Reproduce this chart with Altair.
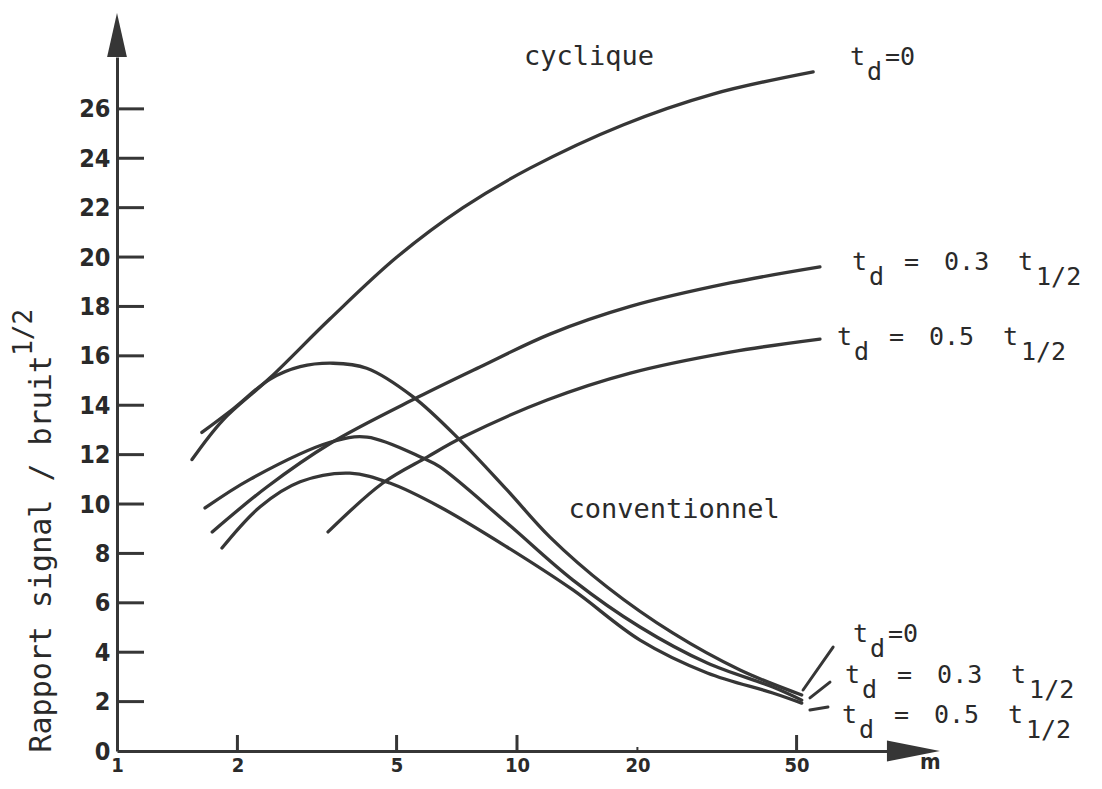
import altair as alt
import pandas as pd

# ---------------- data ----------------
# cyclique curves
cyc0_m = [1.54, 1.84, 2.41, 3.41, 5.01, 7.33, 10.78, 18.4, 30.9, 55.0]
cyc0_v = [11.8, 13.4, 15.1, 17.5, 20.0, 22.0, 23.6, 25.35, 26.6, 27.5]

cyc03_m = [1.73, 2.37, 3.41, 5.66, 8.08, 12.09, 19.2, 34.1, 57.2]
cyc03_v = [8.87, 10.69, 12.45, 14.33, 15.55, 16.88, 18.0, 18.95, 19.6]

cyc05_m = [3.37, 4.62, 5.96, 7.33, 11.89, 19.2, 34.1, 57.2]
cyc05_v = [8.87, 10.85, 11.9, 12.71, 14.21, 15.3, 16.15, 16.68]

# conventionnel curves
conv0_m = [1.63, 1.95, 2.41, 2.87, 3.47, 4.21, 5.5, 7.2, 9.44, 12.09, 16.8, 24.5, 36.1, 51.5]
conv0_v = [12.9, 13.85, 15.05, 15.56, 15.7, 15.5, 14.34, 12.59, 10.57, 8.66, 6.64, 4.78, 3.28, 2.27]

conv03_m = [1.66, 2.15, 3.41, 4.22, 5.82, 6.42, 9.44, 13.8, 20.3, 29.9, 43.6, 51.5]
conv03_v = [9.84, 11.0, 12.5, 12.71, 11.86, 11.5, 9.23, 6.92, 5.02, 3.56, 2.59, 2.06]

conv05_m = [1.83, 2.28, 2.87, 3.82, 4.81, 6.42, 9.44, 13.8, 20.3, 29.9, 43.6, 51.5]
conv05_v = [8.22, 9.89, 10.9, 11.25, 10.85, 9.88, 8.26, 6.52, 4.49, 3.16, 2.35, 1.94]

curve_names = ["cyclique td=0", "cyclique td=0.3", "cyclique td=0.5",
               "conventionnel td=0", "conventionnel td=0.3", "conventionnel td=0.5"]
curve_m = [cyc0_m, cyc03_m, cyc05_m, conv0_m, conv03_m, conv05_m]
curve_v = [cyc0_v, cyc03_v, cyc05_v, conv0_v, conv03_v, conv05_v]

# axes
x_tick_values = [1, 2, 5, 10, 20, 50]
x_major_ticks = [2, 5, 10, 50]
x_minor_ticks = [20]
y_tick_values = [0, 2, 4, 6, 8, 10, 12, 14, 16, 18, 20, 22, 24, 26]
y_marked_ticks = [2, 4, 6, 8, 10, 12, 14, 16, 18, 20, 22, 24, 26]

# annotations (data coordinates)
group_text = ["cyclique", "conventionnel"]
group_m = [15.14, 24.7]
group_v = [27.77, 9.43]

td_m = [68.0, 68.8, 63.1, 69.2, 66.1, 64.9]
td_v = [27.77, 19.47, 16.44, 4.41, 2.75, 1.13]
td_coeff = ["0", "0.3", "0.5", "0", "0.3", "0.5"]

leader_m1 = [51.9, 54.0, 54.0]
leader_v1 = [2.47, 2.15, 1.66]
leader_m2 = [61.7, 60.6, 59.9]
leader_v2 = [4.21, 2.79, 1.78]

# ---------------- build ----------------
rows = []
for name, ms, vs in zip(curve_names, curve_m, curve_v):
    for m, v in zip(ms, vs):
        rows.append({"curve": name, "m": m, "v": v})
curves = pd.DataFrame(rows)

INK = "#363636"
TXT = "#2a2a2a"
MONO = "DejaVu Sans Mono"
NUM = "Liberation Sans Narrow, DejaVu Sans Condensed, Liberation Sans, sans-serif"

xscale = alt.Scale(type="log", domain=[1, 84.14], nice=False)
yscale = alt.Scale(domain=[0, 28.1], nice=False, zero=False)

X = lambda **kw: alt.X("m:Q", scale=xscale, **kw)
Y = lambda **kw: alt.Y("v:Q", scale=yscale, **kw)

x_axis = alt.Axis(values=x_tick_values, format="d", ticks=False, grid=False,
                  domainColor=INK, domainWidth=3, labelFont=NUM, labelFontSize=20,
                  labelFontWeight="bold", labelColor=TXT, labelPadding=4,
                  labelFlush=False, labelOverlap=False, title=None)
y_axis = alt.Axis(values=y_tick_values, format="d", ticks=False, grid=False,
                  domainColor=INK, domainWidth=3, labelFont=NUM, labelFontSize=25,
                  labelFontWeight="bold", labelColor=TXT, labelPadding=7,
                  labelOverlap=False, labelFlush=False,
                  title="Rapport signal / bruit", titleFont=MONO, titleFontSize=30,
                  titleFontWeight="normal", titleColor=TXT, titleAngle=270,
                  titleAlign="left", titleBaseline="alphabetic", titleX=-67, titleY=695)

lines = alt.Chart(curves).mark_line(
    interpolate="catmull-rom", color=INK, strokeWidth=3.3, strokeCap="round"
).encode(x=X(axis=x_axis), y=Y(axis=y_axis), detail="curve:N")

layers = [lines]

# inward axis ticks
ytk = pd.DataFrame({"v": y_marked_ticks})
layers.append(alt.Chart(ytk).mark_rule(color=INK, strokeWidth=3).encode(
    y=Y(), x=alt.value(0), x2=alt.value(27)))
xtk = pd.DataFrame({"m": x_major_ticks})
layers.append(alt.Chart(xtk).mark_rule(color=INK, strokeWidth=3).encode(
    x=X(), y=alt.value(694), y2=alt.value(678)))
xtk2 = pd.DataFrame({"m": x_minor_ticks})
layers.append(alt.Chart(xtk2).mark_rule(color=INK, strokeWidth=2).encode(
    x=X(), y=alt.value(694), y2=alt.value(690)))

# axis arrows
up = pd.DataFrame({"m": [1.0], "v": [28.99]})
layers.append(alt.Chart(up).mark_point(
    shape="M0,-1 L0.45,1 L-0.45,1 Z", filled=True, size=1936, color=INK, opacity=1
).encode(x=X(), y=Y()))
right = pd.DataFrame({"m": [97.96], "v": [0.0]})
layers.append(alt.Chart(right).mark_point(
    shape="M1,0 L-1,-0.4 L-1,0.4 Z", filled=True, size=2809, color=INK, opacity=1
).encode(x=X(), y=Y()))

# x axis name
mlab = pd.DataFrame({"m": [107.9], "v": [-0.72], "t": ["m"]})
layers.append(alt.Chart(mlab).mark_text(
    font=NUM, fontSize=22, fontWeight="bold", color=TXT, align="center", baseline="alphabetic"
).encode(x=X(), y=Y(), text="t:N"))

# y title superscript
sup = pd.DataFrame({"m": [0.613], "v": [16.0], "t": ["1/2"]})
layers.append(alt.Chart(sup).mark_text(
    font=MONO, fontSize=26, color=TXT, angle=270, align="left", baseline="alphabetic"
).encode(x=X(), y=Y(), text="t:N"))

# group labels
grp = pd.DataFrame({"m": group_m, "v": group_v, "t": group_text})
layers.append(alt.Chart(grp).mark_text(
    font=MONO, fontSize=27, color=TXT, align="center", baseline="alphabetic"
).encode(x=X(), y=Y(), text="t:N"))

# t_d labels, token by token
td = pd.DataFrame({"m": td_m, "v": td_v, "c": td_coeff})
def tok(df, text_col, dx, dy=0):
    return alt.Chart(df).mark_text(
        font=MONO, fontSize=25, color=TXT, align="left", baseline="alphabetic", dx=dx, dy=dy
    ).encode(x=X(), y=Y(), text=f"{text_col}:N")

td_all = td.assign(t1="t", sub="d")
layers.append(tok(td_all, "t1", 0))
layers.append(tok(td_all, "sub", 17, 15))
td_zero = td[td["c"] == "0"].assign(eq="=0")
layers.append(tok(td_zero, "eq", 35))
td_frac = td[td["c"] != "0"].assign(eq="=", t2="t", half="1/2")
layers.append(tok(td_frac, "eq", 52))
layers.append(tok(td_frac, "c", 92))
layers.append(tok(td_frac, "t2", 166))
layers.append(tok(td_frac, "half", 184, 15))

# leader strokes
ld = pd.DataFrame({"m": leader_m1, "v": leader_v1, "m2": leader_m2, "v2": leader_v2})
layers.append(alt.Chart(ld).mark_rule(color=INK, strokeWidth=3, strokeCap="round").encode(
    x=X(), y=Y(), x2="m2:Q", y2="v2:Q"))

chart = alt.layer(*layers).properties(
    width=770, height=694,
    autosize=alt.AutoSizeParams(type="none"),
    padding={"left": 109, "top": 49, "right": 207, "bottom": 28},
    background="white",
).configure_view(stroke=None)

chart.save("out.html", embed_options={"renderer": "svg", "actions": False})
